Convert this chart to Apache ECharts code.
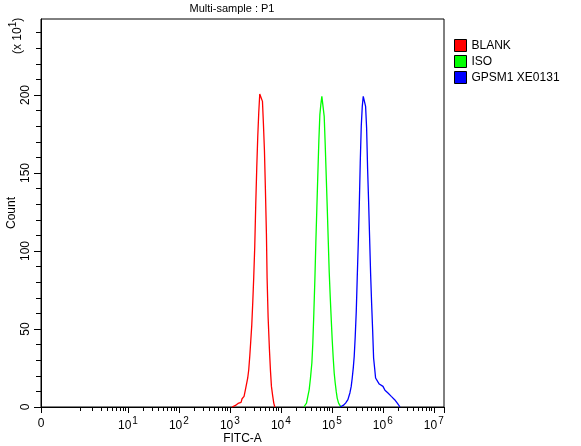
<!DOCTYPE html>
<html>
<head>
<meta charset="utf-8">
<style>html,body{margin:0;padding:0;background:#fff}#c{width:581px;height:446px}</style>
<script src="https://cdn.jsdelivr.net/npm/echarts@6/dist/echarts.min.js"></script>
</head>
<body>
<div id="c"></div>
<script>
// x values are log10(FITC-A); y values are Count (x 10^1)
const seriesNames = ['BLANK', 'ISO', 'GPSM1 XE0131'];
const seriesColors = ['#ff0000', '#00ff00', '#0000ff'];
const blank = [[3.043,0],[3.108,1],[3.160,2.3],[3.219,3],[3.239,5.3],[3.278,6.8],[3.304,11],[3.331,15.4],[3.350,18.6],[3.370,23.9],[3.390,32.5],[3.409,42],[3.429,52.3],[3.449,67.3],[3.468,83.3],[3.488,103],[3.508,130.7],[3.527,153.2],[3.547,173.5],[3.566,188.4],[3.586,200.6],[3.619,201.3],[3.639,195.9],[3.658,181.4],[3.678,164.3],[3.697,139.3],[3.717,110.4],[3.730,82.7],[3.750,57.5],[3.776,36.7],[3.796,23.3],[3.815,13.2],[3.841,6.8],[3.861,2.5],[3.881,0]];
const iso = [[4.450,0],[4.503,2.5],[4.529,6.8],[4.555,11],[4.581,18.6],[4.608,28.2],[4.627,41],[4.647,60.2],[4.667,81.6],[4.686,105.1],[4.706,127.5],[4.726,150],[4.745,170.3],[4.765,187.4],[4.784,193.8],[4.804,199.1],[4.843,199.5],[4.850,186.3],[4.870,168.1],[4.889,148.9],[4.909,128.6],[4.929,107.2],[4.948,86.9],[4.968,70.9],[4.987,57],[5.007,43.1],[5.027,31.4],[5.046,21.8],[5.066,15.4],[5.086,10],[5.105,5.7],[5.132,2.5],[5.171,0.4]];
const gpsm1 = [[5.158,0],[5.223,1],[5.269,2.5],[5.315,4.7],[5.354,9],[5.380,13.2],[5.400,18.6],[5.420,24.9],[5.439,32.5],[5.459,45.3],[5.479,61.3],[5.498,82.7],[5.518,104.5],[5.538,128.6],[5.557,156.4],[5.577,179.9],[5.597,192.7],[5.616,199.1],[5.649,199.5],[5.662,192.7],[5.682,178.8],[5.701,153.2],[5.721,131.8],[5.741,108.3],[5.760,85.9],[5.780,66.6],[5.800,49.5],[5.819,31.4],[5.839,25],[5.858,18.6],[5.898,16.4],[5.930,14.7],[6.003,13.2],[6.042,10.7],[6.101,9],[6.166,6.8],[6.232,4.7],[6.284,2.5],[6.337,0]];
const xMin = -0.705, xMax = 7.2, yMax = 248.7;
const xLabelValues = [-0.705, 1, 2, 3, 4, 5, 6, 7];
const xMajorTicks = [-0.705, 1, 2, 3, 4, 5, 6, 7, 7.2];
const xMinorTicks = [0.063, 0.301, 0.477, 0.602, 0.699, 0.778, 0.845, 0.903, 0.954,
  1.301, 1.477, 1.602, 1.699, 1.778, 1.845, 1.903, 1.954,
  2.301, 2.477, 2.602, 2.699, 2.778, 2.845, 2.903, 2.954,
  3.301, 3.477, 3.602, 3.699, 3.778, 3.845, 3.903, 3.954,
  4.301, 4.477, 4.602, 4.699, 4.778, 4.845, 4.903, 4.954,
  5.301, 5.477, 5.602, 5.699, 5.778, 5.845, 5.903, 5.954,
  6.301, 6.477, 6.602, 6.699, 6.778, 6.845, 6.903, 6.954];
const yMajorTicks = [0, 50, 100, 150, 200];
const yMinorTicks = [10, 20, 30, 40, 60, 70, 80, 90, 110, 120, 130, 140, 160, 170, 180, 190, 210, 220, 230, 240];
const FONT = '"Liberation Sans", Arial, sans-serif';
const black = '#000';
const chart = echarts.init(document.getElementById('c'), null, {renderer: 'canvas'});
const tickLabel = v => {
  if (v < 0) return '{b|0}';
  return '{b|10}{s|' + Math.round(v) + '}';
};
chart.setOption({
  animation: false,
  backgroundColor: '#fff',
  textStyle: {fontFamily: FONT, color: black},
  title: {
    text: 'Multi-sample : P1', left: 227, top: -2, textAlign: 'center',
    textStyle: {fontFamily: FONT, fontSize: 11, fontWeight: 'normal', color: black}
  },
  grid: {left: 41, top: 19, width: 403, height: 388, show: true, borderColor: black, borderWidth: 1, backgroundColor: 'transparent', outerBoundsMode: 'none'},
  legend: {
    orient: 'vertical', left: 454, top: 39, padding: 0, itemWidth: 12, itemHeight: 12, itemGap: 3,
    icon: 'rect', data: seriesNames,
    itemStyle: {borderColor: black, borderWidth: 1},
    lineStyle: {width: 0},
    textStyle: {fontFamily: FONT, fontSize: 12, color: black}
  },
  xAxis: [
    {type: 'value', min: xMin, max: xMax, position: 'bottom',
     axisLine: {show: true, onZero: false, lineStyle: {color: black, width: 1}},
     axisTick: {show: true, length: 4, customValues: xMinorTicks, lineStyle: {color: black, width: 1}},
     axisLabel: {show: false}, splitLine: {show: false}, minorTick: {show: false}},
    {type: 'value', min: xMin, max: xMax, position: 'bottom',
     name: 'FITC-A', nameLocation: 'middle', nameGap: 26, nameMoveOverlap: false,
     nameTextStyle: {fontFamily: FONT, fontSize: 12, color: black},
     axisLine: {show: false, onZero: false},
     axisTick: {show: true, length: 6, customValues: xMajorTicks, lineStyle: {color: black, width: 1}},
     axisLabel: {show: true, customValues: xLabelValues, margin: 9, hideOverlap: false, showMinLabel: true, showMaxLabel: true,
       formatter: tickLabel, color: black,
       rich: {
         b: {fontFamily: FONT, fontSize: 12, color: black, verticalAlign: 'bottom', lineHeight: 14},
         s: {fontFamily: FONT, fontSize: 10, color: black, verticalAlign: 'top', lineHeight: 16, padding: [0, 0, 5, 1]}
       }},
     splitLine: {show: false}}
  ],
  yAxis: [
    {type: 'value', min: 0, max: yMax, position: 'left',
     axisLine: {show: true, onZero: false, lineStyle: {color: black, width: 1}},
     axisTick: {show: true, length: 5, customValues: yMinorTicks, lineStyle: {color: black, width: 1}},
     axisLabel: {show: false}, splitLine: {show: false}},
    {type: 'value', min: 0, max: yMax, position: 'left',
     name: 'Count', nameLocation: 'middle', nameGap: 23, nameRotate: 90, nameMoveOverlap: false,
     nameTextStyle: {fontFamily: FONT, fontSize: 12, color: black},
     axisLine: {show: false, onZero: false},
     axisTick: {show: true, length: 7, customValues: yMajorTicks, lineStyle: {color: black, width: 1}},
     axisLabel: {show: true, customValues: yMajorTicks, rotate: 90, margin: 9, color: black, fontFamily: FONT, fontSize: 12},
     splitLine: {show: false}}
  ],
  graphic: [{
    type: 'text', x: 8, y: 54, rotation: Math.PI / 2, silent: true,
    style: {
      text: '{b|(x 10}{s|1}{b|)}', fill: black,
      rich: {
        b: {fontFamily: FONT, fontSize: 12, fill: black, verticalAlign: 'bottom', lineHeight: 14},
        s: {fontFamily: FONT, fontSize: 10, fill: black, verticalAlign: 'top', lineHeight: 16}
      }
    }
  }],
  series: [blank, iso, gpsm1].map((d, i) => ({
    name: seriesNames[i], type: 'line', data: d, xAxisIndex: 0, yAxisIndex: 0,
    showSymbol: false, symbol: 'none', smooth: false, silent: true,
    itemStyle: {color: seriesColors[i]},
    lineStyle: {color: seriesColors[i], width: 1.3}
  }))
});
</script>
</body>
</html>
